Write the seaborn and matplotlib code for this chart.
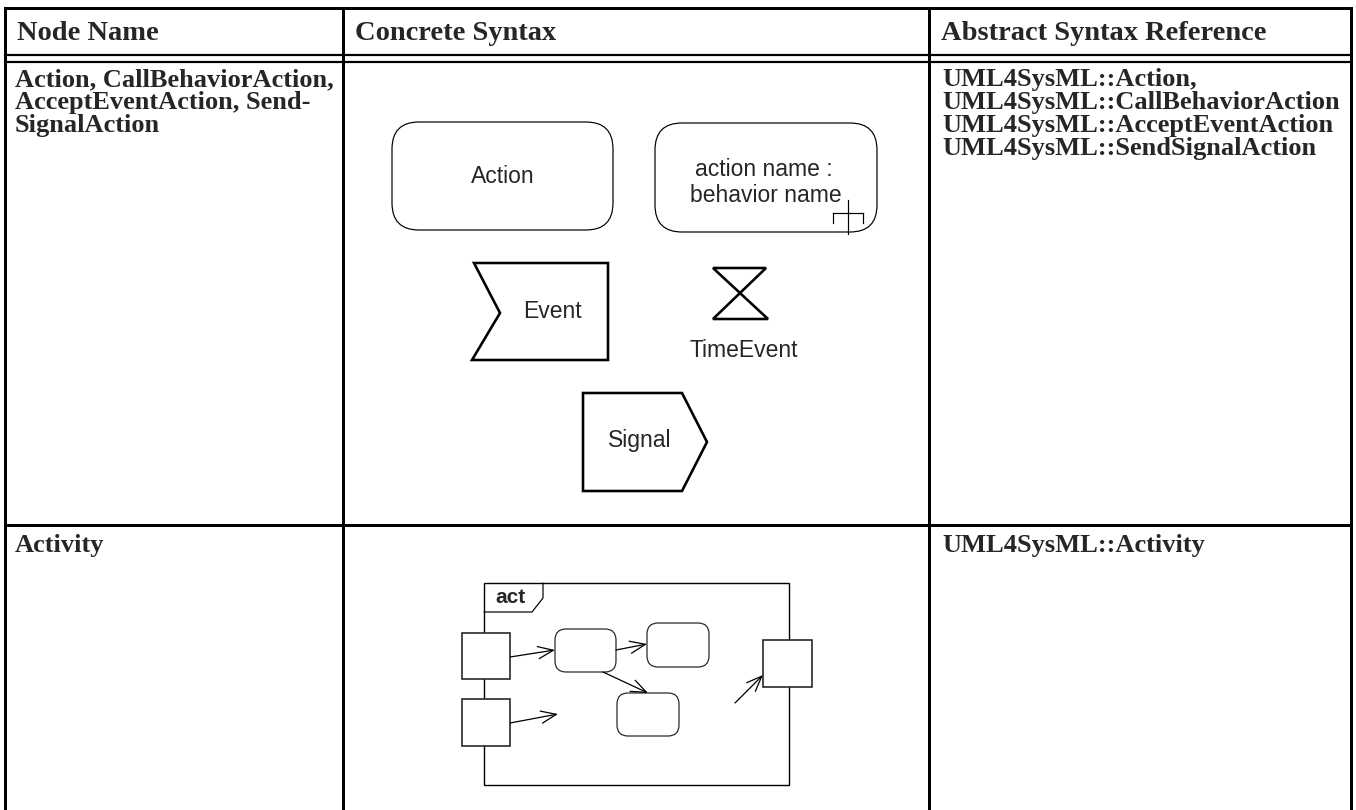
import matplotlib
matplotlib.use("Agg")
import matplotlib.pyplot as plt
import seaborn as sns
from matplotlib.patches import FancyBboxPatch, Polygon, Rectangle

# table content
headers = ["Node Name", "Concrete Syntax", "Abstract Syntax Reference"]
node_names = [
    ["Action, CallBehaviorAction,", "AcceptEventAction, Send-", "SignalAction"],
    ["Activity"],
]
abstract_refs = [
    ["UML4SysML::Action,", "UML4SysML::CallBehaviorAction",
     "UML4SysML::AcceptEventAction", "UML4SysML::SendSignalAction"],
    ["UML4SysML::Activity"],
]
shape_labels = ["Action", "action name :", "behavior name", "Event", "TimeEvent", "Signal"]
frame_label = "act"

sns.set_theme(style="white")
plt.rcParams['font.family'] = ['Liberation Serif', 'DejaVu Serif']

W, H = 1356, 810
fig = plt.figure(figsize=(W / 100, H / 100), dpi=100)
ax = fig.add_axes([0, 0, 1, 1])
ax.set_xlim(0, W)
ax.set_ylim(H, 0)
ax.axis('off')

PX = 0.72  # points per pixel at 100 dpi


def seg(x, y, lw, color='black', z=3):
    ax.plot(x, y, color=color, lw=lw * PX, solid_capstyle='projecting', zorder=z)


# table grid
x_left, x_c1, x_c2, x_right = 5, 343, 929, 1351
y_top, y_h1, y_h2, y_row, y_bot = 8, 55, 62, 525, 812
seg([x_left, x_right], [y_top, y_top], 3)
for xv in [x_left, x_c1, x_c2, x_right]:
    seg([xv, xv], [y_top, y_bot], 3)
seg([x_left, x_right], [y_h1, y_h1], 2.2)
seg([x_left, x_right], [y_h2, y_h2], 2.2)
seg([x_left, x_right], [y_row, y_row], 3)

# header + text columns
pad = 12
for xv, txt in zip([x_left, x_c1, x_c2], headers):
    ax.text(xv + pad, 40, txt, fontsize=20.5, fontweight='bold', va='baseline', ha='left')

line_h = 23
for row_y, names, refs in zip([86, 552], node_names, abstract_refs):
    for i, t in enumerate(names):
        ax.text(x_left + 10, row_y + i * line_h, t, fontsize=19, fontweight='bold',
                va='baseline', ha='left')
    for i, t in enumerate(refs):
        ax.text(x_c2 + 13, row_y + i * line_h, t, fontsize=19, fontweight='bold',
                va='baseline', ha='left')

sans = ['Liberation Sans', 'DejaVu Sans']


def rbox(x0, y0, x1, y1, r, lw, ec='black'):
    p = FancyBboxPatch((x0, y0), x1 - x0, y1 - y0,
                       boxstyle=f"round,pad=0,rounding_size={r}",
                       fc='white', ec=ec, lw=lw * PX, zorder=4)
    ax.add_patch(p)


# Action boxes
rbox(392, 122, 613, 230, 27, 1.2)
rbox(655, 123, 877, 232, 27, 1.2)
ax.text(503, 183, shape_labels[0], fontsize=16.5, family=sans, ha='center', va='baseline', zorder=5)
ax.text(764, 176, shape_labels[1], fontsize=16.5, family=sans, ha='center', va='baseline', zorder=5)
ax.text(766, 202, shape_labels[2], fontsize=16.5, family=sans, ha='center', va='baseline', zorder=5)
# call behavior fork symbol
seg([833, 863], [213, 213], 1.2, z=6)
seg([833, 833], [213, 223], 1.2, z=6)
seg([863, 863], [213, 223], 1.2, z=6)
seg([848, 848], [200, 234], 1.2, z=6)

# accept event
ax.add_patch(Polygon([(474, 263), (608, 263), (608, 360), (472, 360), (500, 313)],
                     closed=True, fc='white', ec='black', lw=2.6 * PX, joinstyle='miter', zorder=4))
ax.text(552, 318, shape_labels[3], fontsize=16.5, family=sans, ha='center', va='baseline', zorder=5)

# time event hourglass
ax.add_patch(Polygon([(713, 268), (766, 268), (713, 319), (768, 319)],
                     closed=True, fill=False, ec='black', lw=2.6 * PX, joinstyle='miter', zorder=4))
ax.text(744, 357, shape_labels[4], fontsize=16.5, family=sans, ha='center', va='baseline', zorder=5)

# send signal
ax.add_patch(Polygon([(583, 393), (682, 393), (707, 442), (682, 491), (583, 491)],
                     closed=True, fc='white', ec='black', lw=2.6 * PX, joinstyle='miter', zorder=4))
ax.text(640, 447, shape_labels[5], fontsize=16.5, family=sans, ha='center', va='baseline', zorder=5)

# activity frame
ax.add_patch(Rectangle((484, 583), 789 - 484, 785 - 583, fill=False, ec='black',
                       lw=1.4 * PX, zorder=3))
ax.plot([484, 532, 543, 543], [612, 612, 598, 583], color='black', lw=1.2 * PX, zorder=3)
ax.text(510, 603, frame_label, fontsize=15, fontweight='bold', family=sans,
        ha='center', va='baseline', zorder=5)

# pins
for (x0, y0, x1, y1) in [(462, 633, 510, 679), (462, 699, 510, 746), (763, 640, 812, 687)]:
    ax.add_patch(Rectangle((x0, y0), x1 - x0, y1 - y0, fc='white', ec='#222222',
                           lw=1.6 * PX, zorder=4))

# inner actions
rbox(555, 629, 616, 672, 11, 1.2, ec='#222222')
rbox(647, 623, 709, 667, 11, 1.2, ec='#222222')
rbox(617, 693, 679, 736, 11, 1.2, ec='#222222')

# flows
flows = [((510, 657), (555, 650)), ((616, 650), (647, 644)), ((603, 672), (648, 693)),
         ((510, 723), (558, 714)), ((735, 703), (763, 675))]
for start, end in flows:
    ax.annotate('', xy=end, xytext=start, zorder=5,
                arrowprops=dict(arrowstyle='->,head_length=0.55,head_width=0.22',
                                lw=0.9, color='black', shrinkA=0, shrinkB=0,
                                mutation_scale=20))

fig.savefig('out.png', dpi=100, facecolor='white')
